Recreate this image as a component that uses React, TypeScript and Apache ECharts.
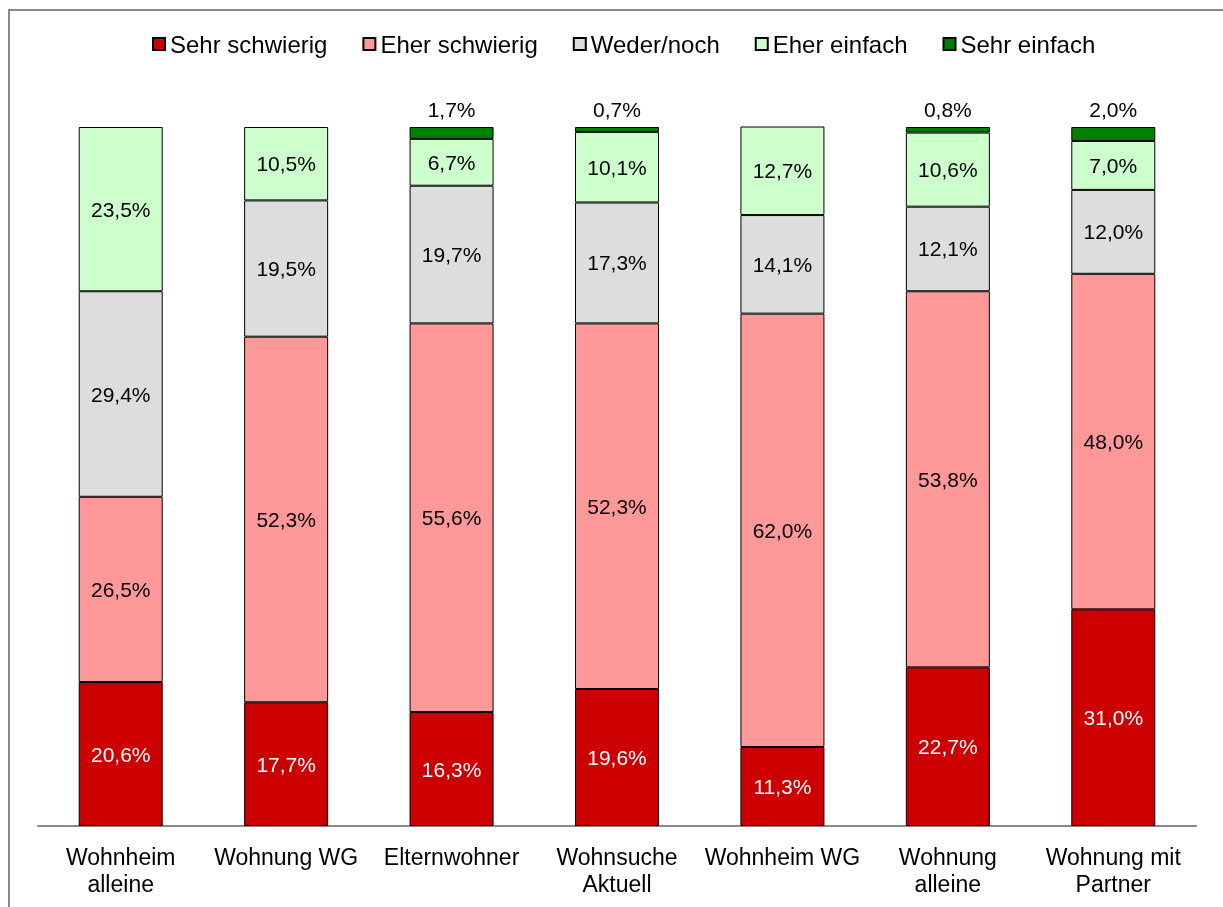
import React, { useEffect, useRef } from "react";
import * as echarts from "echarts";

const categories = [
  "Wohnheim\nalleine",
  "Wohnung WG",
  "Elternwohner",
  "Wohnsuche\nAktuell",
  "Wohnheim WG",
  "Wohnung\nalleine",
  "Wohnung mit\nPartner",
];

const seriesNames = ["Sehr schwierig", "Eher schwierig", "Weder/noch", "Eher einfach", "Sehr einfach"];

const sehrSchwierig = [20.6, 17.7, 16.3, 19.6, 11.3, 22.7, 31.0];
const eherSchwierig = [26.5, 52.3, 55.6, 52.3, 62.0, 53.8, 48.0];
const wederNoch = [29.4, 19.5, 19.7, 17.3, 14.1, 12.1, 12.0];
const eherEinfach = [23.5, 10.5, 6.7, 10.1, 12.7, 10.6, 7.0];
const sehrEinfach = [0, 0, 1.7, 0.7, 0, 0.8, 2.0];

const colors = ["#CC0000", "#FF9999", "#DDDDDD", "#CCFFCC", "#008000"];

const FONT = "'Liberation Sans', Arial, sans-serif";

const fmt = (v: number) => v.toFixed(1).replace(".", ",") + "%";

export default function App() {
  const ref = useRef<HTMLDivElement>(null);
  useEffect(() => {
    if (!ref.current) return;
    const chart = echarts.init(ref.current, undefined, { renderer: "svg" });
    const allData = [sehrSchwierig, eherSchwierig, wederNoch, eherEinfach, sehrEinfach];
    const series = allData.map((arr, i) => {
      const isTop = i === 4;
      return {
        name: seriesNames[i],
        type: "bar",
        stack: "total",
        barWidth: 84,
        data: arr.map((v) => (v === 0 ? "-" : v)),
        itemStyle: { color: colors[i], borderColor: "#000", borderWidth: 1 },
        label: {
          show: true,
          position: isTop ? "top" : "inside",
          distance: 7,
          color: i === 0 ? "#fff" : "#000",
          fontSize: 21,
          fontFamily: FONT,
          formatter: (p: any) => (typeof p.value === "number" && p.value > 0 ? fmt(p.value) : ""),
        },
      };
    });
    chart.setOption({
      animation: false,
      textStyle: { fontFamily: FONT },
      legend: {
        top: 21,
        left: 142,
        padding: 0,
        itemWidth: 12,
        itemHeight: 12,
        itemGap: 35,
        icon: "rect",
        textStyle: { fontSize: 24, color: "#000", fontFamily: FONT },
        data: seriesNames,
      },
      grid: { left: 28, right: 27, top: 116, bottom: 81 },
      xAxis: {
        type: "category",
        data: categories,
        axisLine: { show: true, lineStyle: { color: "#888", width: 2 } },
        axisTick: { show: false },
        axisLabel: {
          interval: 0,
          margin: 17,
          fontSize: 23,
          lineHeight: 27,
          color: "#000",
          fontFamily: FONT,
        },
      },
      yAxis: {
        type: "value",
        min: 0,
        max: 100,
        show: false,
        splitLine: { show: false },
      },
      series,
    });
    return () => chart.dispose();
  }, []);
  return (
    <div
      style={{
        position: "fixed",
        left: 8,
        top: 9,
        width: 1300,
        height: 1000,
        overflow: "hidden",
        borderLeft: "2px solid #888",
        borderTop: "2px solid #888",
      }}
    >
      <div ref={ref} style={{ width: 1213, height: 896 }} />
    </div>
  );
}
